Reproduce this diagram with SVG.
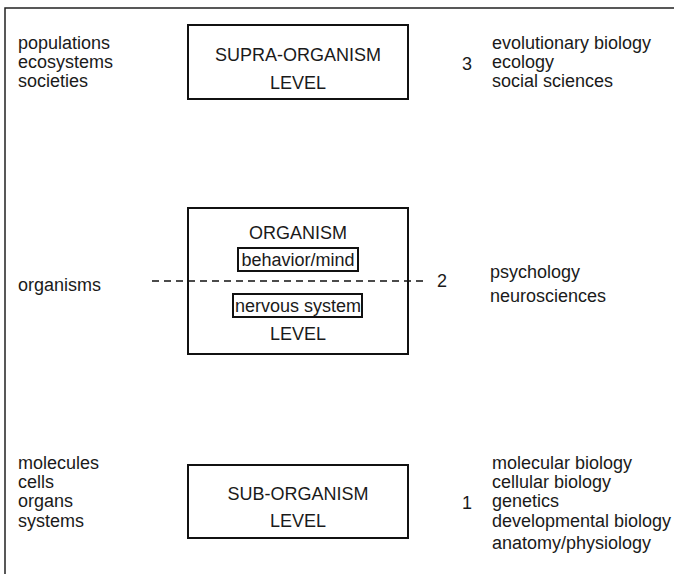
<svg xmlns="http://www.w3.org/2000/svg" width="674" height="574" viewBox="0 0 674 574">
<style>
text{font-family:"Liberation Sans",Arial,sans-serif;font-size:18px;fill:#1a1a1a}
.c{text-anchor:middle}
.box{fill:#fff;stroke:#111;stroke-width:2}
.sub{fill:none;stroke:#111;stroke-width:2}
.frame{fill:none;stroke:#222;stroke-width:1.5}
</style>
<g id="frame"><path class="frame" d="M5,574 V8 H674"/></g>
<g id="supra">
<rect class="box" x="188" y="25" width="220" height="74"/>
<text class="c" x="298" y="61">SUPRA-ORGANISM</text>
<text class="c" x="298" y="89">LEVEL</text>
</g>
<g id="organism">
<rect class="box" x="188" y="208" width="220" height="146"/>
<text class="c" x="298" y="239">ORGANISM</text>
<rect class="sub" x="238" y="248" width="120" height="23"/>
<text class="c" x="298" y="266">behavior/mind</text>
<rect class="sub" x="233" y="294" width="129" height="23"/>
<text class="c" x="298" y="312">nervous system</text>
<text class="c" x="298" y="340">LEVEL</text>
</g>
<g id="sub-organism">
<rect class="box" x="188" y="465" width="220" height="73"/>
<text class="c" x="298" y="500">SUB-ORGANISM</text>
<text class="c" x="298" y="527">LEVEL</text>
</g>
<g id="connectors">
<line x1="152" y1="281" x2="428" y2="281" stroke="#111" stroke-width="1.5" stroke-dasharray="7,5"/>
</g>
<g id="labels">
<text x="18" y="49">populations</text>
<text x="18" y="68">ecosystems</text>
<text x="18" y="87">societies</text>
<text x="462" y="70">3</text>
<text x="492" y="49">evolutionary biology</text>
<text x="492" y="68">ecology</text>
<text x="492" y="87">social sciences</text>
<text x="18" y="291">organisms</text>
<text x="437" y="287">2</text>
<text x="490" y="278">psychology</text>
<text x="490" y="302">neurosciences</text>
<text x="18" y="469">molecules</text>
<text x="18" y="488">cells</text>
<text x="18" y="507">organs</text>
<text x="18" y="527">systems</text>
<text x="462" y="509">1</text>
<text x="492" y="469">molecular biology</text>
<text x="492" y="488">cellular biology</text>
<text x="492" y="507">genetics</text>
<text x="492" y="527">developmental biology</text>
<text x="492" y="549">anatomy/physiology</text>
</g>
</svg>
